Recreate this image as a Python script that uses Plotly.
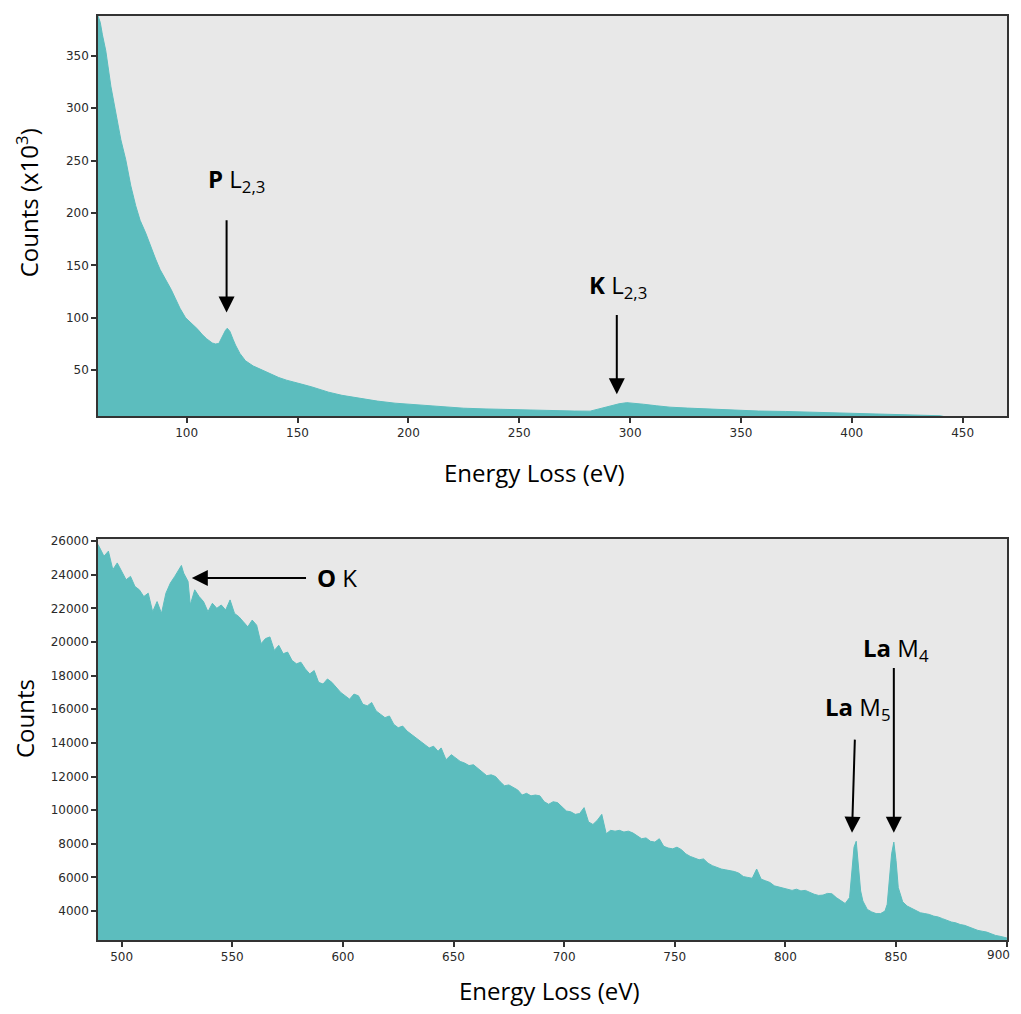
import plotly.graph_objects as go
from plotly.subplots import make_subplots

# ---------------- data ----------------
# Top spectrum: energy loss (eV) and counts (x10^3)
top_energy = [60, 61, 62, 63.5, 65.8, 68, 70.3, 72.5, 74.8, 77, 79, 81.5, 84, 86, 88, 90.5,
              93, 95, 97, 99.5, 101, 102.5, 105, 107, 109, 111.5, 113, 114.5, 116, 117.5,
              118.3, 119.5, 121, 122, 124, 126.5, 130, 134, 138, 141.5, 145, 149, 153,
              156.5, 160, 164, 170, 179, 186, 194, 200, 207, 215, 225, 235, 245, 255, 265,
              275, 282, 285, 288, 292, 295, 298.5, 302, 306, 312, 318, 326, 334, 340, 347,
              358, 370, 380, 388, 398, 408, 416, 425, 432, 436, 440, 443, 470]
top_counts = [388, 382, 370, 355, 321, 295, 270, 251, 226, 207, 193, 181, 166, 156, 146, 137,
              127, 118, 109, 100, 97, 94, 89, 84, 80, 76, 75, 75.5, 82, 88,
              90, 87, 79, 74, 66, 59, 54, 50, 46, 43, 40.5, 38.5, 36,
              34, 31.5, 29, 26, 22.6, 20.5, 18.5, 17.5, 16, 14.7, 13.7, 13, 12.4, 12, 11.5,
              11, 10.9, 12.5, 14.7, 16.5, 17.9, 19, 18.5, 17.5, 16, 14.7, 13.8, 13.1, 12.3, 11.6,
              11, 10.6, 10, 9.3, 8.8, 8.3, 8, 7.4, 7, 6.8, 6.5, 5, 5]

# Bottom spectrum: energy loss (eV) and counts
bot_energy = [489.3, 492, 494, 496, 498, 500, 502, 504, 506, 508, 510, 512, 514, 516, 518, 520,
              522, 524, 526, 527, 528, 530, 531, 533, 535, 537, 539, 541, 543, 545, 547, 549,
              551, 553, 555, 557, 559, 561, 563, 565, 567, 569, 571, 573, 575, 577, 579, 581,
              583, 585, 587, 589, 591, 593, 595, 597, 599, 601, 603, 605, 607, 609, 611, 613,
              615, 617, 619, 621, 623, 625, 627, 629, 631, 633, 635, 637, 639, 641, 643, 644.4,
              646.6, 649, 651, 653, 655, 657, 659, 661, 663, 665, 667, 669, 671, 673, 675, 677,
              679, 681, 683, 685, 687, 689, 691, 693, 695, 697, 699, 701, 703, 705, 707, 709,
              711, 713, 715, 717, 719, 721, 723, 725, 727, 729, 731, 733, 735, 737, 739, 741,
              743, 745, 747, 749, 751, 753, 755, 757, 759, 761, 763, 765, 767, 769, 771, 773,
              775, 777, 779, 781, 783, 785, 787, 789, 791, 793, 795, 797, 799, 801, 803, 805,
              807, 809, 811, 813, 815, 817, 819, 821, 823, 825, 827, 829, 830, 831, 832, 833,
              834, 835, 837, 839, 841, 843, 845, 846, 847, 848, 849, 850, 851, 853, 855, 857,
              859, 861, 863, 865, 867, 869, 871, 873, 875, 877, 879, 881, 883, 885, 887, 889,
              891, 893, 895, 897, 899, 900.1]
bot_counts = [25800, 25100, 25400, 24300, 24700, 24200, 23700, 23900, 23300, 23100, 22700, 22900,
              21800, 22400, 21700, 22900, 23500, 23900, 24300, 24550, 24100, 23600, 22200, 23100,
              22700, 22400, 21800, 22300, 22000, 22200, 21900, 22500, 21700, 21500, 21200, 20900,
              21300, 21000, 19900, 20200, 20300, 19500, 19800, 19300, 19400, 18900, 18700, 18800,
              18400, 18100, 18300, 17600, 17500, 17800, 17600, 17300, 17000, 16800, 16600, 16900,
              16800, 16300, 16200, 16400, 15900, 15700, 15500, 15600, 15100, 14900, 15000, 14700,
              14500, 14300, 14100, 13900, 13700, 13800, 13500, 13700, 13000, 13300, 13100, 12900,
              12800, 12650, 12700, 12500, 12300, 12050, 12100, 12000, 11700, 11450, 11500, 11350,
              11200, 10900, 11000, 10850, 10900, 10850, 10500, 10350, 10500, 10450, 10200, 9950,
              9900, 9750, 9800, 10150, 9300, 9150, 9400, 9750, 8600, 8800, 8750, 8800,
              8700, 8750, 8650, 8450, 8300, 8350, 8150, 8100, 8300, 7850, 7750, 7700,
              7800, 7650, 7400, 7250, 7150, 7050, 7100, 6850, 6700, 6600, 6500, 6450,
              6420, 6350, 6250, 6050, 6000, 5950, 6500, 5900, 5800, 5700, 5500, 5430,
              5350, 5300, 5230, 5300, 5200, 5230, 5100, 5000, 4930, 4950, 5050, 5030,
              4800, 4600, 4450, 4800, 6500, 7800, 8150, 6800, 5200, 4600, 4100, 3950,
              3850, 3850, 4000, 4400, 5800, 7400, 8100, 7000, 5400, 4550, 4300, 4150,
              4050, 3900, 3850, 3800, 3700, 3650, 3550, 3450, 3350, 3300, 3200, 3150,
              3050, 2950, 2850, 2800, 2750, 2650, 2550, 2500, 2430, 2400]

top_xticks = [100, 150, 200, 250, 300, 350, 400, 450]
top_yticks = [50, 100, 150, 200, 250, 300, 350]
bot_xticks = [500, 550, 600, 650, 700, 750, 800, 850, 900]
bot_yticks = list(range(4000, 26001, 2000))

# ---------------- figure ----------------
FILL = "#5CBDBE"
BG = "#E8E8E8"
AXC = "#333333"
TEXTFONT = "Open Sans"
TICKFONT = dict(family="DejaVu Sans", size=12, color="#2a2a2a")

fig = make_subplots(rows=2, cols=1)

fig.add_trace(go.Scatter(x=top_energy, y=top_counts, mode="lines", fill="tozeroy",
                         fillcolor=FILL, line=dict(color=FILL, width=1), showlegend=False),
              row=1, col=1)
fig.add_trace(go.Scatter(x=bot_energy, y=bot_counts, mode="lines", fill="tozeroy",
                         fillcolor=FILL, line=dict(color=FILL, width=1), showlegend=False),
              row=2, col=1)

axis_common = dict(showgrid=False, zeroline=False, showline=True, mirror=True,
                   linecolor=AXC, linewidth=1.5, ticks="outside", ticklen=5,
                   tickwidth=1.5, tickcolor=AXC, tickfont=TICKFONT)

fig.update_xaxes(range=[60, 470], tickvals=top_xticks, row=1, col=1, **axis_common)
fig.update_yaxes(range=[6, 388], tickvals=top_yticks, row=1, col=1, **axis_common)
fig.update_xaxes(range=[489.3, 900.15], tickvals=bot_xticks, row=2, col=1, **axis_common)
fig.update_yaxes(range=[2280, 26140], tickvals=bot_yticks, tickformat="d",
                 row=2, col=1, **axis_common)

# page has an 8px body margin: compensate so the plot boxes land where the reference has them
fig.update_layout(
    width=1005, height=998,
    margin=dict(l=90, r=5, t=4, b=66),
    paper_bgcolor="white",
    plot_bgcolor=BG,
    showlegend=False,
)
fig.layout.yaxis.domain = [0.5668, 1.0]
fig.layout.yaxis2.domain = [0.0, 0.4343]
fig.layout.xaxis.domain = [0, 1]
fig.layout.xaxis2.domain = [0, 1]

ann = []
# last tick label of the lower x axis (would be hidden at the page edge otherwise)
ann.append(dict(text=str(bot_xticks[-1]), x=(1013 - 98) / 910, y=(940 - 955) / 928,
                xref="paper", yref="paper", showarrow=False, font=TICKFONT,
                xanchor="right", yanchor="middle"))
# axis titles
title_font = dict(family=TEXTFONT, size=24, color="black")
ann.append(dict(text="Energy Loss (eV)", x=(535 - 98) / 910, y=(940 - 470) / 928,
                xref="paper", yref="paper", showarrow=False, font=title_font,
                xanchor="center", yanchor="middle"))
ann.append(dict(text="Energy Loss (eV)", x=(550 - 98) / 910, y=(940 - 991) / 928,
                xref="paper", yref="paper", showarrow=False, font=title_font,
                xanchor="center", yanchor="middle"))
ann.append(dict(text="Counts (x10<sup>3</sup>)", x=(27 - 98) / 910, y=(940 - 200) / 928,
                xref="paper", yref="paper", showarrow=False, font=title_font,
                textangle=-90, xanchor="center", yanchor="middle"))
ann.append(dict(text="Counts", x=(25 - 98) / 910, y=(940 - 718) / 928,
                xref="paper", yref="paper", showarrow=False, font=title_font,
                textangle=-90, xanchor="center", yanchor="middle"))

label_font = dict(family=TEXTFONT, size=24, color="black")
# edge labels
ann.append(dict(text="<b>P</b> L<sub>2,3</sub>", x=122.5, y=231.5, xref="x", yref="y",
                showarrow=False, font=label_font))
ann.append(dict(text="<b>K</b> L<sub>2,3</sub>", x=294.4, y=130.7, xref="x", yref="y",
                showarrow=False, font=label_font))
ann.append(dict(text="<b>O</b> K", x=597.4, y=23810, xref="x2", yref="y2",
                showarrow=False, font=label_font))
ann.append(dict(text="<b>La</b> M<sub>5</sub>", x=833, y=16060, xref="x2", yref="y2",
                showarrow=False, font=label_font))
ann.append(dict(text="<b>La</b> M<sub>4</sub>", x=850.1, y=19610, xref="x2", yref="y2",
                showarrow=False, font=label_font))

# arrows
arrow_style = dict(text="", showarrow=True, arrowhead=2, arrowsize=1.6, arrowwidth=2,
                   arrowcolor="black", standoff=0, startstandoff=0)
ann.append(dict(x=118, y=105, ax=118, ay=194.4, xref="x", yref="y", axref="x", ayref="y",
                **arrow_style))
ann.append(dict(x=294, y=27, ax=294, ay=104, xref="x", yref="y", axref="x", ayref="y",
                **arrow_style))
ann.append(dict(x=531.7, y=23810, ax=584, ay=23810, xref="x2", yref="y2", axref="x2",
                ayref="y2", **arrow_style))
ann.append(dict(x=830.1, y=8663, ax=831.4, ay=14284, xref="x2", yref="y2", axref="x2",
                ayref="y2", **arrow_style))
ann.append(dict(x=849, y=8663, ax=849, ay=18545, xref="x2", yref="y2", axref="x2",
                ayref="y2", **arrow_style))

fig.update_layout(annotations=ann)

fig.write_html("out.html")
